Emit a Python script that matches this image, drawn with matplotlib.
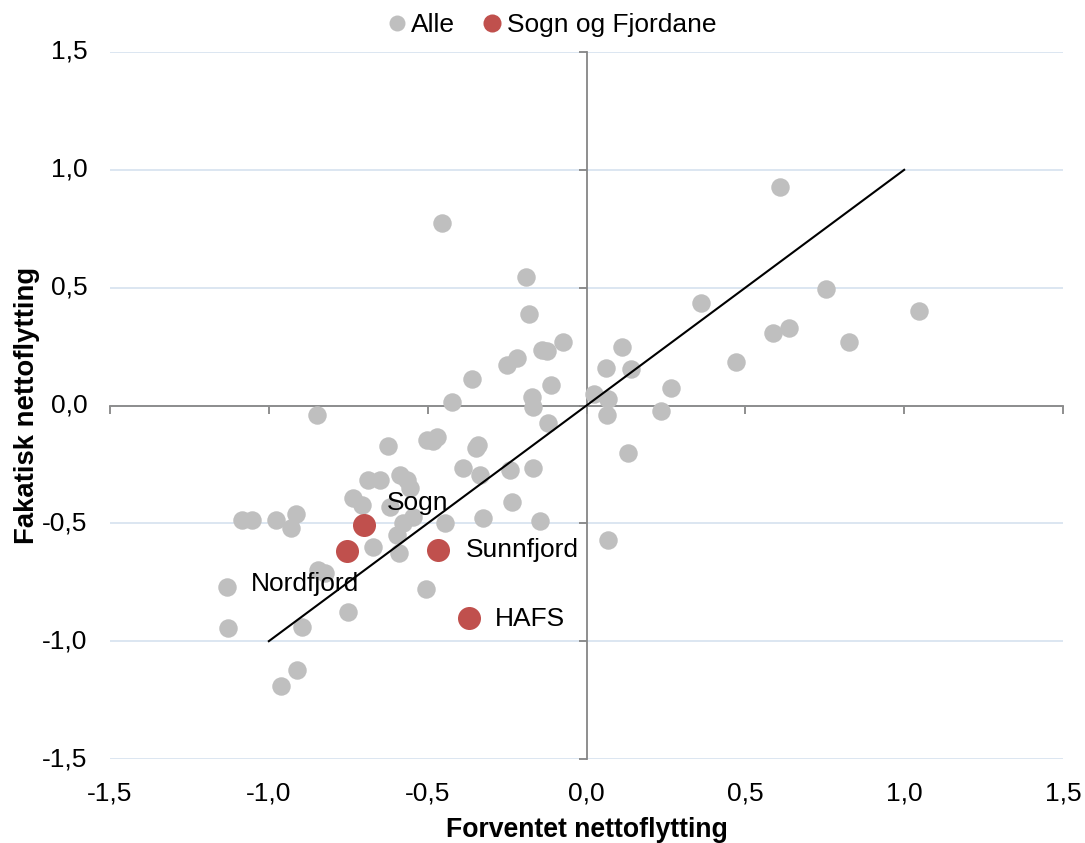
import matplotlib.pyplot as plt
from matplotlib.lines import Line2D
import numpy as np

plt.rcParams['font.family'] = ['Liberation Sans', 'DejaVu Sans']

# Alle kommunar: forventet (x) og faktisk (y) nettoflytting
alle_x = [0.609, -0.455, -0.190, -0.181, 0.360, 0.754, 1.047, 0.587, 0.637, 0.826,
          0.471, -0.074, -0.219, -0.250, -0.140, -0.124, 0.112, 0.061, 0.140, -0.360,
          -0.112, 0.266, -0.423, -0.172, -0.168, 0.024, 0.068, 0.065, 0.235, -0.121,
          -0.848, -0.502, -0.483, -0.471, -0.625, -0.348, -0.342, 0.131, -0.389, -0.241,
          -0.168, -0.335, -0.688, -0.650, -0.587, -0.565, -0.556, -0.735, -0.707, -0.619,
          -0.546, -0.578, -0.597, -0.235, -1.084, -1.053, -0.977, -0.914, -0.930, -0.445,
          -0.326, -0.146, -0.672, -0.590, 0.068, -1.132, -0.845, -0.823, -0.505, -0.751,
          -1.129, -0.896, -0.911, -0.962]
alle_y = [0.927, 0.774, 0.545, 0.388, 0.435, 0.494, 0.401, 0.308, 0.329, 0.269,
          0.185, 0.269, 0.202, 0.172, 0.236, 0.231, 0.248, 0.159, 0.155, 0.112,
          0.087, 0.074, 0.015, 0.036, -0.006, 0.049, 0.028, -0.040, -0.023, -0.074,
          -0.040, -0.146, -0.151, -0.134, -0.172, -0.180, -0.168, -0.202, -0.265, -0.274,
          -0.265, -0.295, -0.316, -0.316, -0.295, -0.316, -0.350, -0.393, -0.422, -0.431,
          -0.473, -0.499, -0.550, -0.409, -0.486, -0.486, -0.486, -0.460, -0.520, -0.499,
          -0.477, -0.490, -0.600, -0.626, -0.571, -0.770, -0.698, -0.711, -0.779, -0.876,
          -0.944, -0.940, -1.122, -1.190]

# Sogn og Fjordane
sf_navn = ['Sogn', 'Nordfjord', 'Sunnfjord', 'HAFS']
sf_x = [-0.700, -0.754, -0.467, -0.370]
sf_y = [-0.507, -0.617, -0.613, -0.902]

ticks = [-1.5, -1.0, -0.5, 0.0, 0.5, 1.0, 1.5]

grey = '#bfbfbf'
red = '#c0504d'
axcol = '#868686'
fs = 19

fig = plt.figure(figsize=(10.85, 8.43), dpi=100)
ax = fig.add_axes([110 / 1085, 84 / 843, 953 / 1085, 707 / 843])

ax.set_xlim(-1.5, 1.5)
ax.set_ylim(-1.5, 1.5)
ax.set_xticks(ticks)
ax.set_yticks(ticks)

for s in ['top', 'right']:
    ax.spines[s].set_visible(False)
for s in ['left', 'bottom']:
    ax.spines[s].set_position(('data', 0))
    ax.spines[s].set_color(axcol)
    ax.spines[s].set_linewidth(1.3)
ax.tick_params(direction='out', length=6, width=1.3, color=axcol,
               labelleft=False, labelbottom=False)
ax.yaxis.grid(True, color='#d9e4f0', lw=1.3)
ax.set_axisbelow(True)

fmt = lambda v: f'{v:.1f}'.replace('.', ',')
for v in ticks:
    ax.text(-0.024, v, fmt(v), transform=ax.get_yaxis_transform(),
            ha='right', va='center', fontsize=fs)
    ax.text(v, -0.049, fmt(v), transform=ax.get_xaxis_transform(),
            ha='center', va='center', fontsize=fs)

ax.scatter(alle_x, alle_y, s=177, color=grey, linewidths=0, zorder=3)
ax.plot([-1, 1], [-1, 1], color='black', lw=1.5, zorder=4)
ax.scatter(sf_x, sf_y, s=275, color=red, linewidths=0, zorder=5)

offsets = [(16.5, 16), (-69, -24), (20, 0), (19, -1)]
for navn, x, y, off in zip(sf_navn, sf_x, sf_y, offsets):
    ax.annotate(navn, (x, y), xytext=off, textcoords='offset points',
                ha='left', va='center', fontsize=fs, zorder=6)

ax.text(0.5, -0.1, 'Forventet nettoflytting', transform=ax.transAxes,
        ha='center', va='center', fontsize=19.2, fontweight='bold')
ax.text(-0.087, 0.5, 'Fakatisk nettoflytting', transform=ax.transAxes,
        ha='center', va='center', rotation=90, fontsize=19.8, fontweight='bold')

handles = [Line2D([], [], ls='', marker='o', ms=11.5, color=grey, mew=0),
           Line2D([], [], ls='', marker='o', ms=13, color=red, mew=0)]
fig.legend(handles, ['Alle', 'Sogn og Fjordane'], loc='center',
           bbox_to_anchor=(550 / 1085, 1 - 25 / 843), ncol=2, frameon=False,
           fontsize=fs, handletextpad=0.05, columnspacing=0.9, handlelength=1.0)

fig.savefig('out.png', dpi=100)
